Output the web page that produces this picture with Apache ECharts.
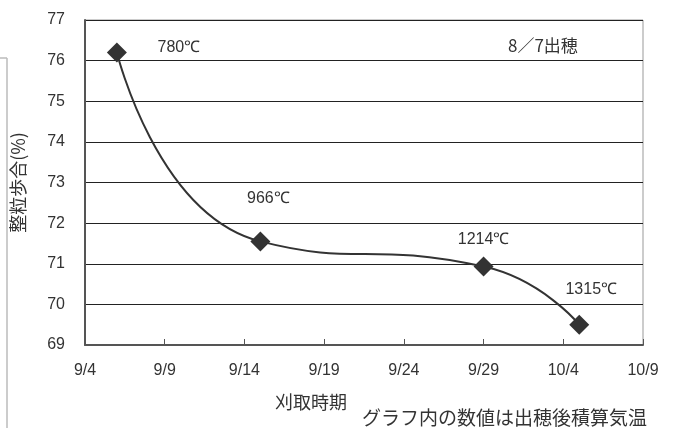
<!DOCTYPE html>
<html><head><meta charset="utf-8">
<script src="https://cdn.jsdelivr.net/npm/echarts@6/dist/echarts.min.js"></script>
<style>html,body{margin:0;padding:0;background:#fff}#c{width:679px;height:428px}</style>
</head><body><div id="c"></div>
<script>
const harvestDates = ['9/6', '9/15', '9/29', '10/5'];
const ratioValues = [76.2, 71.55, 70.93, 69.5];
const tempLabels = ['780℃', '966℃', '1214℃', '1315℃'];
const xTickLabels = ['9/4', '9/9', '9/14', '9/19', '9/24', '9/29', '10/4', '10/9'];
const yTickLabels = ['69', '70', '71', '72', '73', '74', '75', '76', '77'];
const headingNote = '8／7出穂';
const xName = '刈取時期';
const yName = '整粒歩合(%)';
const footNote = 'グラフ内の数値は出穂後積算気温';

const labelOffsets = [[62, 18], [8, -20], [0, -4], [12, -12]];

function dayOffset(s) {
  const base = Date.UTC(2000, 8, 4);
  const [m, d] = s.split('/').map(Number);
  return Math.round((Date.UTC(2000, m - 1, d) - base) / 86400000);
}
const tickDays = xTickLabels.map(dayOffset);
const dayToLabel = {};
xTickLabels.forEach((l, i) => dayToLabel[tickDays[i]] = l);

const data = harvestDates.map((d, i) => ({
  value: [dayOffset(d), ratioValues[i]],
  label: { show: true, formatter: tempLabels[i], offset: labelOffsets[i] }
}));

const numFont = 'Arial';
const cjkFont = '"Noto Sans CJK JP", sans-serif';
const chart = echarts.init(document.getElementById('c'));
chart.setOption({
  animation: false,
  backgroundColor: '#fff',
  grid: { left: 85, right: 36, top: 20, bottom: 83, show: true, borderColor: '#999', borderWidth: 1 },
  xAxis: {
    type: 'value', min: tickDays[0], max: tickDays[tickDays.length - 1], interval: 5,
    axisLine: { show: true, lineStyle: { color: '#555', width: 2 } },
    axisTick: { show: true, inside: true, length: 6, lineStyle: { color: '#555' } },
    splitLine: { show: false },
    axisLabel: { formatter: v => dayToLabel[v] || '', color: '#333', fontSize: 16, fontFamily: numFont, margin: 18 }
  },
  yAxis: {
    type: 'value', min: Number(yTickLabels[0]), max: Number(yTickLabels[yTickLabels.length - 1]), interval: 1,
    name: yName, nameLocation: 'middle', nameRotate: 90, nameGap: 58,
    nameTextStyle: { color: '#333', fontSize: 18, fontFamily: cjkFont },
    axisLine: { show: true, lineStyle: { color: '#555', width: 2 } },
    axisTick: { show: false },
    splitLine: { show: true, lineStyle: { color: '#222', width: 1 } },
    axisLabel: { color: '#333', fontSize: 16, fontFamily: numFont, margin: 20 }
  },
  series: [{
    type: 'line', data: data, smooth: 0.55,
    symbol: 'diamond', symbolSize: 20,
    itemStyle: { color: '#333' },
    lineStyle: { color: '#333', width: 2 },
    label: { position: 'top', color: '#333', fontSize: 16, fontFamily: numFont }
  }],
  graphic: [
    { type: 'text', left: 508, top: 37, style: { text: headingNote, fill: '#333', font: '17px ' + cjkFont } },
    { type: 'text', left: 275, top: 393, style: { text: xName, fill: '#333', font: '18px ' + cjkFont } },
    { type: 'text', left: 362, top: 408, style: { text: footNote, fill: '#333', font: '19px ' + cjkFont } },
    { type: 'line', shape: { x1: 7, y1: 58, x2: 7, y2: 428 }, style: { stroke: '#bbb', lineWidth: 1.5 } },
    { type: 'line', shape: { x1: 0, y1: 58, x2: 7, y2: 58 }, style: { stroke: '#bbb', lineWidth: 1.5 } }
  ]
});
</script></body></html>
